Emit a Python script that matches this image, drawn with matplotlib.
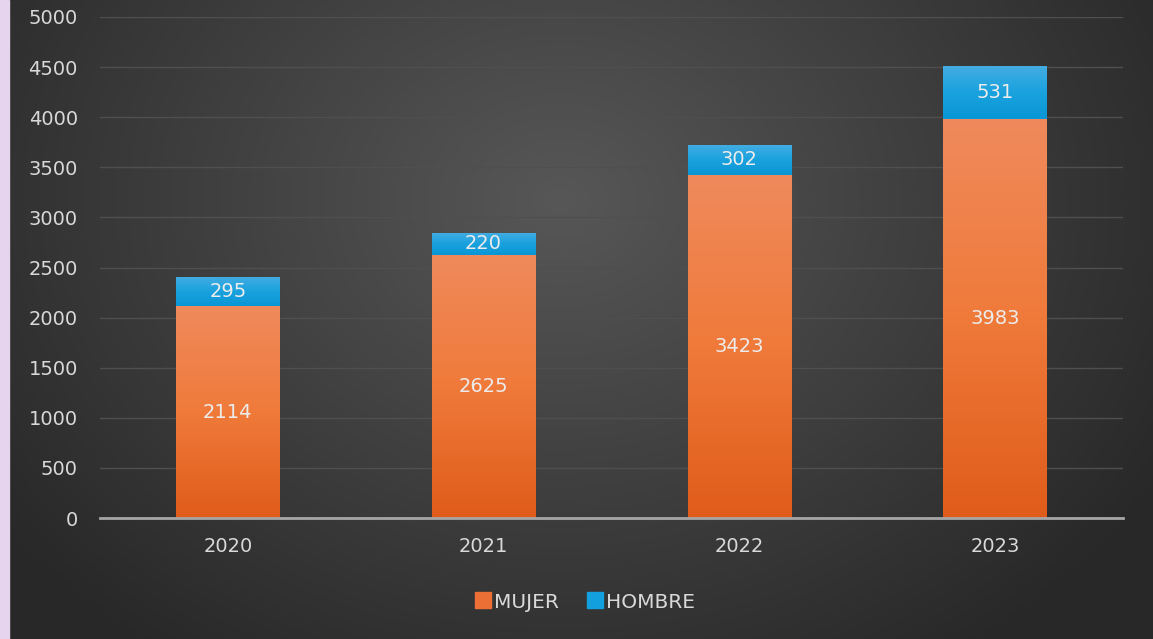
import numpy as np
import matplotlib

matplotlib.use("Agg")
import matplotlib.pyplot as plt
from matplotlib.colors import LinearSegmentedColormap
from matplotlib.patches import Rectangle

years = ["2020", "2021", "2022", "2023"]
mujer = [2114, 2625, 3423, 3983]
hombre = [295, 220, 302, 531]
y_ticks = [0, 500, 1000, 1500, 2000, 2500, 3000, 3500, 4000, 4500, 5000]

TXT = "#d9d9d9"

fig = plt.figure(figsize=(11.53, 6.39), dpi=100)

# radial background
bg = fig.add_axes([0, 0, 1, 1], zorder=-10)
bg.axis("off")
yy, xx = np.mgrid[0:639, 0:1153]
r = np.sqrt(((xx - 560) / 700.0) ** 2 + ((yy - 200) / 560.0) ** 2)
shade = np.clip(1 - r, 0, 1)
bg_cmap = LinearSegmentedColormap.from_list("bg", ["#282828", "#575757"])
bg.imshow(shade, cmap=bg_cmap, aspect="auto", extent=[0, 1, 0, 1], origin="upper")
bg.add_patch(Rectangle((0, 0), 9 / 1153, 1, color="#e6d4ef", transform=bg.transAxes))
bg.set_xlim(0, 1)
bg.set_ylim(0, 1)

ax = fig.add_axes([100 / 1153, (639 - 518) / 639, 1023 / 1153, 501 / 639])
ax.patch.set_alpha(0)
x = np.arange(len(years))
w = 0.405
b1 = ax.bar(x, mujer, width=w, color="#eb6a2c", zorder=3, label="MUJER")
b2 = ax.bar(x, hombre, width=w, bottom=mujer, color="#119bdb", zorder=3, label="HOMBRE")

orange = LinearSegmentedColormap.from_list("o", ["#e05c1a", "#ef7a3a", "#f08a5c"])
blue = LinearSegmentedColormap.from_list("b", ["#0996d6", "#1aa2de", "#45ade2"])
grad = np.linspace(0, 1, 256).reshape(-1, 1)
for bars, cm in ((b1, orange), (b2, blue)):
    for bar in bars:
        x0, y0 = bar.get_x(), bar.get_y()
        bw, bh = bar.get_width(), bar.get_height()
        im = ax.imshow(grad, cmap=cm, aspect="auto", origin="lower",
                       extent=[x0, x0 + bw, y0, y0 + bh], zorder=3.5)
        im.set_clip_path(bar)
        bar.set_facecolor("none")

for bar, v in zip(b1, mujer):
    ax.text(bar.get_x() + bar.get_width() / 2, bar.get_y() + v / 2, str(v),
            ha="center", va="center", color="#ececec", fontsize=14, zorder=5)
for bar, v in zip(b2, hombre):
    ax.text(bar.get_x() + bar.get_width() / 2, bar.get_y() + v / 2, str(v),
            ha="center", va="center", color="#ececec", fontsize=14, zorder=5)

ax.set_xlim(-0.5, 3.5)
ax.set_ylim(0, 5000)
ax.set_yticks(y_ticks)
ax.set_xticks(x)
ax.set_xticklabels(years)
ax.tick_params(axis="both", length=0, colors=TXT, labelsize=14)
ax.tick_params(axis="y", pad=16)
ax.tick_params(axis="x", pad=14)
ax.grid(axis="y", color="#4f4f4f", linewidth=1.0, zorder=0)
ax.set_axisbelow(True)
for s in ("top", "right", "left"):
    ax.spines[s].set_visible(False)
ax.spines["bottom"].set_color("#a6a6a6")
ax.spines["bottom"].set_linewidth(2)
ax.spines["bottom"].set_zorder(4)

h1 = plt.Line2D([], [], marker="s", linestyle="none", markersize=11, color="#ec7036")
h2 = plt.Line2D([], [], marker="s", linestyle="none", markersize=11, color="#13a0de")
fig.legend([h1, h2], ["MUJER", "HOMBRE"], loc="center", bbox_to_anchor=(585 / 1153, 1 - 602 / 639),
           ncol=2, frameon=False, fontsize=14.5, labelcolor=TXT, handletextpad=0.15,
           columnspacing=1.4, handlelength=0.8)

fig.savefig("out.png", dpi=100)
